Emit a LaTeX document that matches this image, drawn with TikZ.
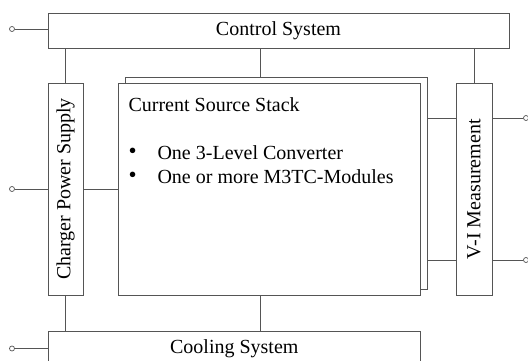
\documentclass[tikz,border=0pt]{standalone}
\usepackage{fontspec}
\setmainfont{Liberation Serif}
\usetikzlibrary{calc}
\definecolor{edge}{RGB}{85,85,85}
\tikzset{
  blk/.style={draw=edge, line width=0.9pt, fill=white, rectangle, inner sep=0pt},
  wire/.style={draw=edge, line width=0.9pt},
  term/.style={draw=edge, line width=0.7pt, fill=white, circle, minimum size=5pt, inner sep=0pt},
  lbl/.style={font=\fontsize{20}{24}\selectfont, text=black, inner sep=0pt},
  dot/.style={font=\fontsize{23}{24}\selectfont, text=black, inner sep=0pt}
}
\begin{document}
\begin{tikzpicture}[x=1pt, y=-1pt]
\useasboundingbox (0,0) rectangle (528,361);

% blocks
\node[blk, minimum width=461pt, minimum height=35pt] (ctrl) at (278.5,30.5) {};
\node[lbl] at (ctrl.center) {Control System};

\node[blk, minimum width=35pt, minimum height=212pt] (chg) at (65.7,189) {};
\node[lbl, rotate=90] at (chg.center) {Charger Power Supply};

\node[blk, minimum width=302pt, minimum height=212pt] (stackb) at (276,183) {};
\node[blk, minimum width=302pt, minimum height=212pt] (stack) at (269.8,189.3) {};
\node[lbl, anchor=west] (title) at ($(stack.north west)+(10,22)$) {Current Source Stack};
\node[dot, anchor=west] (b1) at ($(stack.north west)+(10,70)$) {•};
\node[lbl, anchor=west] (t1) at ($(stack.north west)+(39,70)$) {One 3-Level Converter};
\node[dot, anchor=west] (b2) at ($(stack.north west)+(10,94)$) {•};
\node[lbl, anchor=west] (t2) at ($(stack.north west)+(39,94)$) {One or more M3TC-Modules};

\node[blk, minimum width=36pt, minimum height=212pt] (vi) at (474,189.3) {};
\node[lbl, rotate=90] at (vi.center) {V-I Measurement};

\node[blk, minimum width=372pt, minimum height=35pt] (cool) at (234.3,348.5) {};
\node[lbl] at (cool.center) {Cooling System};

% terminals
\node[term] (tc) at (12,29) {};
\node[term] (tp) at (12,189) {};
\node[term] (tk) at (12,348.5) {};
\node[term] (tv1) at (526,118) {};
\node[term] (tv2) at (526,260) {};

% reference points on the stack
\coordinate (sTop) at ($(stackb.north west)+(136,0)$);
\coordinate (sBot) at ($(stack.south west)+(142,0)$);
\coordinate (sR1) at (stackb.east |- tv1);
\coordinate (sR2) at (stackb.east |- tv2);

% connectors
\draw[wire] (tc) -- (tc -| ctrl.west);
\draw[wire] (tp) -- (tp -| chg.west);
\draw[wire] (tk) -- (tk -| cool.west);
\draw[wire] (tv1) -- (tv1 -| vi.east);
\draw[wire] (tv2) -- (tv2 -| vi.east);

\draw[wire] (chg.north) -- (chg.north |- ctrl.south);
\draw[wire] (sTop) -- (sTop |- ctrl.south);
\draw[wire] (vi.north) -- (vi.north |- ctrl.south);

\draw[wire] (chg.east) -- (chg.east -| stack.west);
\draw[wire] (sR1) -- (sR1 -| vi.west);
\draw[wire] (sR2) -- (sR2 -| vi.west);

\draw[wire] (chg.south) -- (chg.south |- cool.north);
\draw[wire] (sBot) -- (sBot |- cool.north);
\end{tikzpicture}
\end{document}
